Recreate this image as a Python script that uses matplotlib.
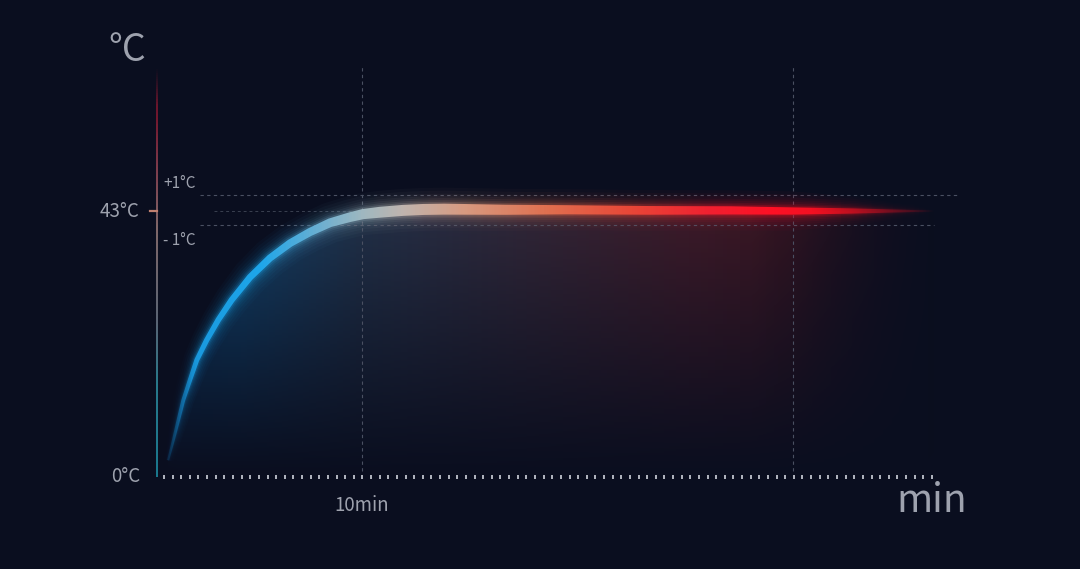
import numpy as np
import matplotlib
matplotlib.use("Agg")
import matplotlib.pyplot as plt
from matplotlib.colors import LinearSegmentedColormap
from matplotlib.patches import Polygon
from matplotlib.collections import LineCollection

# ---- data ------------------------------------------------------------------
time_min = [0.54, 0.80, 1.04, 1.28, 1.61, 1.94, 2.42, 2.99, 3.64, 4.54,
            5.51, 6.49, 7.46, 8.44, 9.41, 10.05, 10.88, 12.0, 13.0, 14.0,
            17.0, 20.0, 24.0, 28.0, 31.0, 34.0, 36.0, 37.9]
temp_c = [2.7, 6.0, 9.2, 12.4, 15.7, 18.9, 22.1, 25.4, 28.6, 32.3,
          35.4, 37.8, 39.6, 41.1, 42.0, 42.5, 42.8, 43.1, 43.25, 43.3,
          43.2, 43.2, 43.1, 43.1, 43.0, 43.0, 43.0, 43.0]
target_c = 43
band_hi, band_lo = 45.6, 40.7       # where the +1/-1 guide lines sit on the art
marked_min = [10, 31]
tick_labels_y = {"43°C": 43, "0°C": 0}
xtick_label = ("10min", 10)

BG = "#0a0e1f"
TXT = "#9ea2ae"
FONT = ["Noto Sans CJK SC", "DejaVu Sans"]

# pixel mapping: x=0 at px 157, 20.5 px/min ; T=0 at py 477, 6.186 px/deg
SX, SY = 20.5, 6.186
XL = (-157 / SX, (1080 - 157) / SX)
YL = ((477 - 569) / SY, 477 / SY)

fig = plt.figure(figsize=(10.8, 5.69), dpi=100, facecolor=BG)
ax = fig.add_axes([0, 0, 1, 1])
ax.set_facecolor(BG)
ax.axis("off")

t = np.array(time_min)
T = np.array(temp_c)


def clipped_image(img, extent, verts, z):
    patch = Polygon(verts, closed=True, facecolor="none", edgecolor="none")
    ax.add_patch(patch)
    im = ax.imshow(img, extent=extent, origin="lower", aspect="auto",
                   interpolation="bilinear", zorder=z)
    im.set_clip_path(patch)


def band(w_px):
    # stroke outline of the curve, w_px = half width in pixels, normal offset
    px, py = t * SX, T * SY
    dx, dy = np.gradient(px), np.gradient(py)
    n = np.hypot(dx, dy)
    nx, ny = -dy / n, dx / n
    up = np.column_stack([(px + nx * w_px) / SX, (py + ny * w_px) / SY])
    lo = np.column_stack([(px - nx * w_px) / SX, (py - ny * w_px) / SY])
    return np.vstack([up, lo[::-1]])


# ---- area under the curve ---------------------------------------------------
fill_cmap = LinearSegmentedColormap.from_list("fill", [
    (0.0, "#0c4272"), (4 / 40, "#124670"), (10 / 40, "#24344c"),
    (18 / 40, "#35293a"), (26 / 40, "#421c2a"), (31 / 40, "#3e1622"),
    (37 / 40, "#1c1020"), (1.0, "#100c1c")])
gx = np.linspace(0, 40, 400)
gy = np.linspace(-1, 46, 200)
rgb = fill_cmap(gx / 40)[:, :3]
va = np.clip(gy / 44, 0, 1) ** 1.1 * 0.95
ha = np.interp(gx, [0, 1.0, 29, 38.5, 40], [0.4, 1, 1, 0, 0])
fimg = np.zeros((len(gy), len(gx), 4))
fimg[..., :3] = rgb[None, :, :]
fimg[..., 3] = va[:, None] * ha[None, :]
verts = np.column_stack([np.r_[t, t[::-1]], np.r_[T, np.zeros_like(T)]])
clipped_image(fimg, (0, 40, -1, 46), verts, 1)

# ---- guide lines ------------------------------------------------------------
for x in marked_min:
    ax.plot([x, x], [1.0, 66.5], color="#4a5062", lw=0.8, ls=(0, (3, 3)), zorder=2)
ax.plot([2.1, 39.0], [band_hi] * 2, color="#4a5062", lw=0.8, ls=(0, (3, 3)), zorder=2)
ax.plot([2.1, 37.9], [band_lo] * 2, color="#4a5062", lw=0.8, ls=(0, (3, 3)), zorder=2)
ax.plot([2.8, 12], [target_c] * 2, color="#3a4050", lw=0.7, ls=(0, (3, 3)), zorder=2)

# ---- y axis line with colour gradient --------------------------------------
ya = np.linspace(0, 66, 200)
ax_cmap = LinearSegmentedColormap.from_list("axis", [
    (0.0, "#1a7a90"), (15 / 66, "#2a7e90"), (25 / 66, "#606a7a"),
    (40 / 66, "#8a7070"), (50 / 66, "#8a4050"), (58 / 66, "#801830"),
    (1.0, "#5a1428")])
cols = ax_cmap(ya[:-1] / 66)
cols[:, 3] = np.interp(ya[:-1], [0, 60, 66], [1, 0.9, 0])
segs = np.stack([np.column_stack([np.zeros(199), ya[:-1]]),
                 np.column_stack([np.zeros(199), ya[1:]])], axis=1)
ax.add_collection(LineCollection(segs, colors=cols, linewidths=1.4, zorder=3))
ax.plot([-0.33, 0], [target_c] * 2, color="#c08070", lw=1.6, zorder=3)

# ---- x axis tick marks ------------------------------------------------------
xt = np.linspace(0.34, 37.8, 90)
ax.vlines(xt, -0.4, 0.4, color="#d0d4dc", lw=1.2, zorder=3)

# ---- the glowing curve ------------------------------------------------------
curve_cmap = LinearSegmentedColormap.from_list("curve", [
    (0.0, "#1070b0"), (2 / 38, "#1a9be0"), (5 / 38, "#1ea6ea"),
    (8 / 38, "#6fb0d0"), (10 / 38, "#a0b8c0"), (12 / 38, "#c0b4ae"),
    (15 / 38, "#d89a80"), (19 / 38, "#e07050"), (23 / 38, "#e84838"),
    (27 / 38, "#f02030"), (30 / 38, "#ff1025"), (34 / 38, "#e81020"),
    (1.0, "#b01020")])
cx = np.linspace(0, 38, 600)
cimg = np.zeros((2, len(cx), 4))
cimg[..., :3] = curve_cmap(cx / 38)[:, :3][None]
cimg[..., 3] = np.interp(cx, [0, 0.6, 1.8, 32, 37.5, 38], [0, 0.25, 1, 1, 0.15, 0])[None]

hw = np.interp(t, [0.54, 1.0, 2.0, 4.0, 8.0, 11.0, 14.0, 20.0, 30.0, 34.0, 37.9],
               [1.0, 1.7, 2.5, 3.2, 4.2, 5.5, 5.5, 4.6, 4.0, 2.6, 0.4])
glow = [(16, 0.035), (13, 0.04), (10, 0.05), (7.5, 0.06),
        (5.5, 0.08), (3.5, 0.12), (1.8, 0.2)]
ext = (0, 38, -5, 55)
for extra, alpha in glow:
    img = cimg.copy()
    img[..., 3] *= alpha
    clipped_image(img, ext, band(hw + extra * np.clip(hw / 3.5, 0.3, 1)), 4)
clipped_image(cimg, ext, band(hw), 6)

# ---- texts ------------------------------------------------------------------
kw = dict(family=FONT, color=TXT, fontweight="light")
ax.text(-1.45, 69.0, "°C", fontsize=27, ha="center", va="center", **kw)
ax.text(37.8, -5.66, "min", fontsize=28, ha="center", va="baseline", **kw)
for lab, val in tick_labels_y.items():
    ax.text(-0.83, val, lab, fontsize=13.5, ha="right", va="center", **kw)
ax.text(xtick_label[1], -4.6, xtick_label[0], fontsize=13.5, ha="center",
        va="center", **kw)
ax.text(0.3, 47.4, "+1°C", fontsize=11, ha="left", va="center", **kw)
ax.text(0.3, 38.2, "- 1°C", fontsize=11, ha="left", va="center", **kw)

ax.set_xlim(*XL)
ax.set_ylim(*YL)
fig.savefig("out.png", dpi=100, facecolor=BG)
